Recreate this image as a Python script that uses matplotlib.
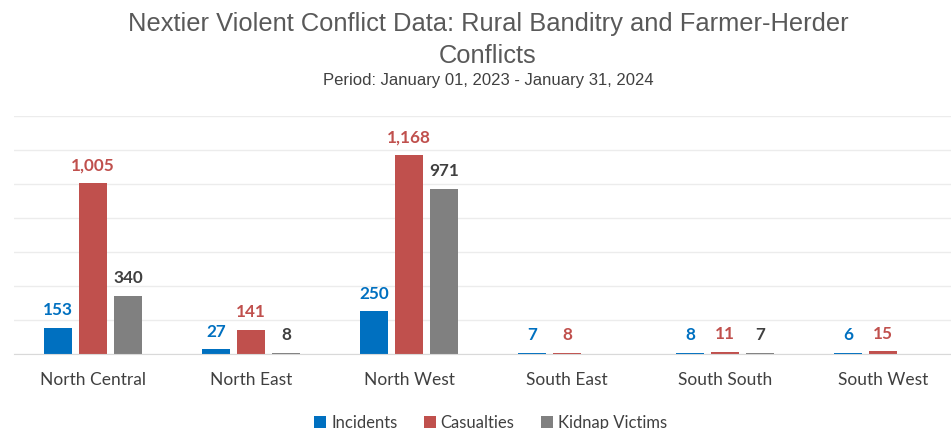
import matplotlib; matplotlib.use("Agg")
import matplotlib.pyplot as plt
import numpy as np

regions = ["North Central", "North East", "North West", "South East", "South South", "South West"]
incidents = [153, 27, 250, 7, 8, 6]
casualties = [1005, 141, 1168, 8, 11, 15]
kidnap = [340, 8, 971, 0, 7, 0]

series = [("Incidents", incidents, "#0070C0", "#0070C0"),
          ("Casualties", casualties, "#C0504D", "#C0504D"),
          ("Kidnap Victims", kidnap, "#808080", "#404040")]

fig = plt.figure(figsize=(9.51, 4.29), dpi=100)
ax = fig.add_axes([0.0147, 0.175, 0.9968, 0.5548])

x = np.arange(len(regions))
w = 0.18
step = 0.222
for i, (name, vals, col, lcol) in enumerate(series):
    pos = x + (i - 1) * step
    ax.bar(pos, vals, width=w, color=col, label=name, zorder=3)
    for p, v in zip(pos, vals):
        if v == 0:
            continue
        ax.annotate("{:,}".format(v), (p, v), xytext=(0, 7), textcoords="offset points",
                    ha="center", va="bottom", fontsize=12.3, fontweight="bold",
                    color=lcol, family="Lato")

ax.set_xlim(-0.5, len(regions) - 0.5)
ax.set_ylim(0, 1400)
ax.set_yticks(np.arange(0, 1401, 200))
ax.yaxis.grid(True, color="#ececec", linewidth=1, zorder=0)
ax.tick_params(axis="y", left=False, labelleft=False)
ax.tick_params(axis="x", length=0, pad=13)
ax.set_xticks(x)
ax.set_xticklabels(regions, fontsize=12.5, color="#404040", family="Lato")
for s in ["top", "right", "left"]:
    ax.spines[s].set_visible(False)
ax.spines["bottom"].set_color("#d9d9d9")
ax.spines["bottom"].set_zorder(4)

fig.text(0.513, 0.945, "Nextier Violent Conflict Data: Rural Banditry and Farmer-Herder",
         ha="center", va="center", fontsize=18.4, color="#595959", family="Liberation Sans")
fig.text(0.513, 0.87, "Conflicts", ha="center", va="center", fontsize=18.4,
         color="#595959", family="Liberation Sans")
fig.text(0.513, 0.812, "Period: January 01, 2023 - January 31, 2024", ha="center",
         va="center", fontsize=12, color="#404040", family="Liberation Sans")

leg = fig.legend(loc="center", bbox_to_anchor=(0.516, 0.015), ncol=3, frameon=False,
                 prop={"family": "Lato", "size": 12}, handlelength=0.7, handleheight=0.7,
                 handletextpad=0.3, columnspacing=1.6)
for t in leg.get_texts():
    t.set_color("#404040")

fig.savefig("out.png", dpi=100)
